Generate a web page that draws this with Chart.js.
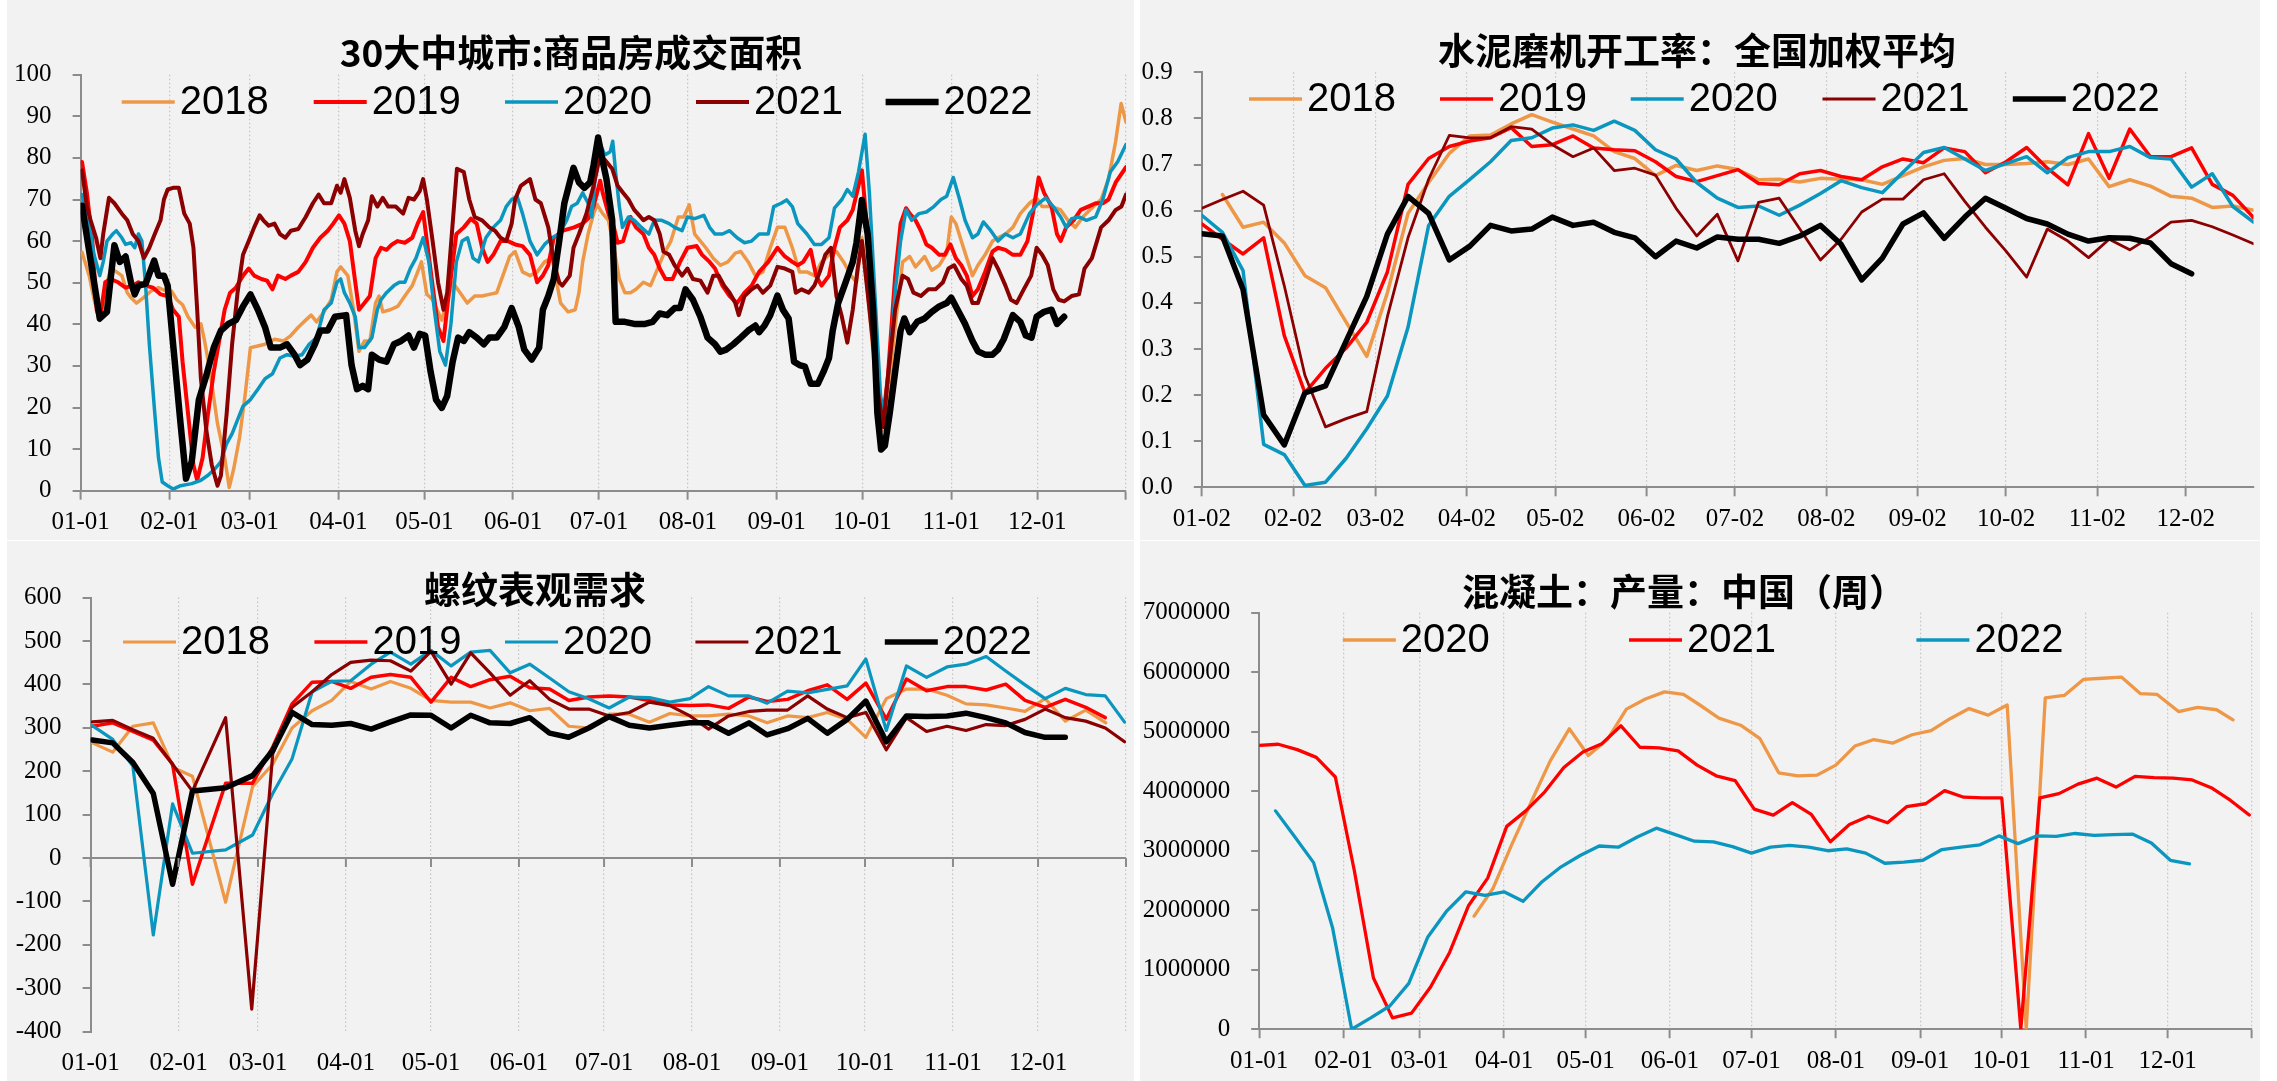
<!DOCTYPE html>
<html lang="zh-CN">
<head>
<meta charset="UTF-8">
<title>建材需求季节性</title>
<script src="https://cdn.jsdelivr.net/npm/chart.js@4"></script>
<style>
  body { margin: 0; width: 2277px; height: 1081px; background: #ffffff; position: relative; overflow: hidden; }
  .panel { position: absolute; background: #f2f2f2; }
  canvas { display: block; }
</style>
</head>
<body>
<div class="panel" style="left:7px;top:0;width:1127px;height:540px"><canvas id="area" width="1127" height="540"></canvas></div>
<div class="panel" style="left:1140px;top:0;width:1120px;height:540px"><canvas id="cement" width="1120" height="540"></canvas></div>
<div class="panel" style="left:7px;top:541px;width:1127px;height:540px"><canvas id="rebar" width="1127" height="540"></canvas></div>
<div class="panel" style="left:1140px;top:541px;width:1120px;height:540px"><canvas id="concrete" width="1120" height="540"></canvas></div>

<script>
// ---- tick labels (day of year, 01-01 = 0) ----
const monthDays01 = [0, 31, 59, 90, 120, 151, 181, 212, 243, 273, 304, 334, 365];
const monthLabels01 = ['01-01', '02-01', '03-01', '04-01', '05-01', '06-01', '07-01', '08-01', '09-01', '10-01', '11-01', '12-01', ''];
const monthDays02 = [1, 32, 60, 91, 121, 152, 182, 213, 244, 274, 305, 335];
const monthLabels02 = ['01-02', '02-02', '03-02', '04-02', '05-02', '06-02', '07-02', '08-02', '09-02', '10-02', '11-02', '12-02'];

// ---- 30大中城市:商品房成交面积  [day, value] ----
const area2018 = [[0.5,57.3],[3,51.7],[5,45.1],[7,41.8],[9,49.3],[10.5,53.4],[12.5,52.6],[14.4,51.7],[16.3,47.6],[17.6,46.4],[19.5,45.1],[22,46.4],[24.6,48],[27.2,48.8],[29.8,48],[31.7,48],[33.6,45.9],[35.6,44.7],[37.5,41.8],[40,39.3],[42,40.1],[43.3,36],[45.2,28.6],[47.8,16.1],[50.3,7.9],[51.9,0.8],[53.5,5.4],[55.5,12.8],[57.4,22.8],[59.3,34.4],[61.9,34.8],[64.4,35.2],[67.7,36.4],[70.9,36],[73.4,37.3],[76,39.3],[78.6,41],[80.5,42.2],[82.4,40.6],[85,43],[87.5,45.9],[89.5,52.6],[90.8,53.8],[93.3,51.7],[95.3,43.5],[97.2,33.5],[99.1,36],[101,36],[103,45.1],[104.2,46.8],[105.5,43],[108.1,43.5],[110.7,44.3],[113.2,46.8],[115.8,49.3],[117.7,52.6],[119,55],[120.9,47.2],[122.9,45.9],[126.1,41],[129.9,50.1],[132.5,47.6],[135,45.1],[137.6,46.8],[140.2,46.8],[142.7,47.2],[145.3,47.6],[147.9,52.6],[149.8,56.3],[151.7,57.5],[154.3,52.6],[156.9,51.7],[159.4,52.6],[162,55],[164.6,55.9],[167.6,45.1],[170.2,43],[172.7,43.5],[174,47.6],[175.3,55],[177.2,61.7],[179.1,66.6],[180.4,68.7],[182.3,66.6],[184.3,65],[186.2,58.4],[188.1,50.9],[190,47.6],[192,47.6],[193.9,48.4],[196.5,50.1],[199,49.3],[201,52.6],[203.5,56.7],[206.1,60],[208.7,65.8],[210.6,65.8],[212.5,68.7],[214.4,61.7],[216.4,60],[218.3,58.4],[220.9,55.9],[223.4,54.2],[226,55],[228.6,57.1],[230.5,57.5],[233.1,55],[235.6,51.7],[238.2,52.6],[240.8,58.4],[243.3,63.3],[245.9,63.3],[248.5,58.4],[251,52.6],[253.6,52.6],[256.2,51.7],[258.7,55],[261.3,56.7],[263.9,57.5],[266.4,55],[269,51.7],[270.9,50.1],[272.8,60.8],[275.4,43.5],[278,22.8],[279.9,14.5],[281.9,22.8],[284.4,39.3],[287,55],[289.5,56.3],[291.5,53.8],[294.7,56.3],[297.2,53],[299.8,54.2],[302.4,57.1],[304,65.8],[305.6,64.2],[307.5,60],[309.4,55.9],[311.4,51.7],[313.3,54.2],[315.8,56.7],[318.4,60],[320.3,60.8],[322.9,61.7],[325.5,63.3],[328.1,66.6],[331.3,69.1],[333.8,70.4],[335.7,68.3],[339,68.3],[342.2,67.5],[344.7,65],[347.3,63.3],[349.9,65.8],[352.4,67.5],[356.3,70],[358.9,74.9],[361.4,84],[363.3,93.1],[365,88.6]];
const area2019 = [[0.5,79],[2.2,71.6],[4.1,60],[5.6,43.5],[6.7,41],[8.6,50.1],[10.5,50.9],[13.1,50.1],[15.7,48.8],[18.2,49.3],[20.2,50.1],[22.7,49.3],[25.3,48.8],[27.9,47.2],[30.4,46.8],[32.3,43.5],[34.3,41.8],[35.6,31],[37.5,18.6],[39.4,6.2],[40.7,2.5],[42.6,7.9],[44.5,18.6],[46.5,28.6],[48.4,36],[50.3,43.5],[52.2,47.6],[54.2,48.8],[56.7,51.7],[58.7,53.4],[60.6,51.7],[63.1,50.9],[65.1,50.5],[67,48.4],[68.9,51.7],[71.5,50.9],[73.4,51.7],[76,52.6],[78.6,55],[81.1,58.4],[83.7,60.8],[86.3,62.5],[88.2,64.2],[90.2,66.2],[92.1,64.2],[94,60],[95.9,50.1],[97.2,43.5],[99.1,45.1],[101,46.8],[103,55.9],[104.9,58.4],[106.8,57.9],[108.7,59.2],[110.7,60],[113.2,59.6],[115.8,60.8],[117.7,64.2],[119.6,67],[120.9,60],[122.9,49.3],[124.8,39.3],[126.7,36],[128.6,47.6],[131.2,61.7],[133.8,63.3],[136.3,65.4],[138.3,64.2],[140.2,58.4],[142.1,55],[144.1,56.7],[146.6,60],[149.2,60],[151.7,59.2],[154.3,58.8],[156.9,56.7],[159.4,50.1],[161.4,51.7],[163.3,54.2],[165.2,60.8],[168.4,62.5],[172.3,63.3],[175.3,64.2],[177.2,65.4],[179.1,68.3],[181.4,74.5],[182.3,71.6],[184.3,66.6],[186.2,63.3],[187.5,59.6],[189.4,60],[192,65.8],[193.9,63.3],[196.5,61.7],[198.4,58.4],[200.3,56.7],[202.2,53.4],[204.2,50.9],[206.7,50.9],[209.3,55],[211.9,58.4],[215.1,58.8],[217,56.7],[219.6,55],[221.5,53.4],[224.1,49.3],[226.6,46.8],[229.2,45.1],[231.8,47.6],[234.3,49.3],[236.9,52.6],[240.1,55],[243.3,58.4],[245.9,56.3],[248.5,55],[250.4,54.2],[252.3,55],[254.9,57.9],[256.8,51.7],[258.7,49.3],[261.3,51.7],[263.2,58.4],[265.1,63.3],[267.7,65],[269.6,67.5],[271.6,73.3],[272.8,77],[274.8,61.7],[276.7,43.5],[278.6,22.8],[279.9,16.1],[281.8,26.9],[284.4,51.7],[286.3,64.2],[288.2,67.9],[289.5,66.6],[291.5,65],[293.4,62.5],[295.3,59.2],[297.2,58.4],[299.8,56.7],[301.7,56.7],[303.7,59.2],[305.6,55.9],[307.5,54.2],[309.4,51.7],[311.4,46.8],[313.3,48.4],[315.8,52.6],[318.4,57.5],[320.3,58.4],[322.9,57.9],[325.5,56.7],[328.1,56.7],[330.6,60],[332.5,66.6],[334.5,75.3],[336.4,71.6],[339,68.3],[340.9,61.7],[342.2,60],[344.1,63.3],[346.7,65],[349.2,67.5],[351.8,68.3],[354.4,69.1],[356.9,69.1],[358.9,70],[361.4,74.1],[365,77.8]];
const area2020 = [[0.5,71.2],[2.8,65],[4.7,56.7],[6.7,51.7],[7.9,55],[9.2,60],[11.2,61.7],[12.5,62.5],[14.4,60.8],[15.7,59.2],[17.6,59.6],[18.9,58.4],[20.2,61.7],[21.4,60],[22.7,49.3],[24,35.2],[25.9,18.6],[27.2,7.9],[28.5,2.1],[30.4,1.2],[32.3,0.4],[34.9,1.2],[38.8,1.7],[42,2.5],[44.5,3.7],[47.1,5.4],[49,7],[50.9,11.2],[52.9,13.7],[54.8,17],[56.7,20.3],[59.3,21.9],[61.9,24.4],[64.4,26.9],[67,28.1],[69.6,31.9],[72.1,32.7],[74.7,32.3],[77.3,32.7],[79.8,35.2],[82.4,36.8],[85,43.5],[87.5,45.1],[89.5,50.1],[90.8,50.9],[92.1,47.6],[94,45.1],[95.9,41.8],[97.2,34.4],[99.1,34.4],[101.7,36.8],[103.6,43.5],[104.9,45.9],[106.8,47.6],[109.4,49.3],[111.3,50.1],[113.2,50.1],[115.1,53.4],[117.1,55.9],[119.6,60.8],[121.6,55],[123.5,43.5],[125.4,33.5],[127.4,30.2],[129.3,40.1],[131.2,55],[133.2,60],[135.1,60.8],[137,55.9],[138.9,55],[141.5,60.8],[144.1,63.3],[146.6,65],[148.6,68.3],[150.5,70],[152.4,70.8],[154.3,66.6],[156.9,60],[159.4,56.7],[162,59.2],[164.6,60.8],[167.1,61.7],[169.7,65],[171.4,68.3],[173.4,69.1],[175.3,71.6],[177.2,69.1],[178.5,65.8],[179.8,76.6],[181.1,84],[183,80.7],[184.9,81.5],[185.8,84],[186.8,76.6],[188.1,68.3],[189.2,63.3],[191.3,65.8],[193.3,65],[195.8,63.3],[198.4,61.7],[200.3,65],[202.9,65],[205.5,64.2],[207.4,63.3],[210,62.5],[211.9,65.8],[214.4,65.4],[217.6,66.2],[219.6,63.3],[221.5,61.7],[224.1,61.7],[226.6,62.5],[229.2,60.8],[231.8,59.6],[234.3,60],[236.9,61.7],[240.1,61.7],[242,68.3],[244.6,69.1],[246.5,69.9],[248.5,68.3],[250.4,64.2],[253.6,61.7],[256.2,59.2],[258.7,59.2],[261.3,60.8],[263.2,67.9],[265.8,70],[267.7,72.4],[269.6,70.8],[271.6,76.6],[273.9,85.7],[275.4,71.6],[277.3,47.6],[279.3,22.8],[280.6,18.6],[282.5,31],[284.4,47.6],[286.3,60],[288.2,67.5],[290.2,65],[292.7,66.6],[295.3,67],[297.9,68.3],[300.4,70],[302.4,70.8],[304.7,75.3],[306.9,70],[308.8,65],[311.4,60.8],[313.3,61.7],[315.2,64.6],[317.8,62.5],[320.3,60],[322.9,61.7],[325.5,60.8],[328.1,61.7],[331.3,66.6],[333.8,68.7],[337,70.4],[339.6,68.3],[342.2,65.8],[344.1,63.3],[346,65.4],[348.6,65.8],[351.2,65],[354.4,65.8],[356.9,70],[359.5,76.6],[362.1,79.1],[365,83.2]];
const area2021 = [[0.5,77],[2.2,68.3],[3.5,65],[5.4,60.8],[6.9,55.9],[7.9,61.7],[9.9,70.4],[11.8,69.1],[14.4,66.6],[16.3,65],[18.2,61.7],[20.2,60],[22.1,55.9],[24,58.4],[25.9,61.7],[27.9,65],[29.1,70],[30.4,72.4],[32.3,72.8],[34.3,72.8],[36.2,66.6],[38.1,64.2],[39.4,58.4],[40.7,43.5],[42,26.9],[43.9,14.5],[45.8,6.2],[47.8,1.2],[49,3.7],[51,18.6],[52.9,35.2],[54.8,47.6],[56.7,56.7],[58.7,60],[60.6,63.3],[62.5,66.2],[63.8,65],[65.7,63.7],[67.7,64.2],[69.6,61.7],[71.5,60.8],[73.4,62.5],[76,62.9],[78.6,65.8],[81.1,69.1],[83.1,71.2],[85,69.1],[87.5,69.1],[89.5,73.3],[90.8,71.6],[92.1,74.9],[94,70.4],[95.9,62.5],[97.2,58.8],[98.5,61.7],[100.4,65],[101.7,70.8],[103.6,68.3],[105.5,70.4],[107.4,68.3],[110,68.3],[112.6,66.6],[114.5,70.4],[116.4,70],[118.4,72],[119.6,74.9],[120.9,70],[122.9,60],[124.8,50.1],[126.7,43.5],[128,47.6],[129.9,64.2],[131.4,77.4],[133.8,76.6],[135.7,70],[137.6,65.8],[140.2,65],[142.7,63.3],[144.7,62.5],[146.6,60.8],[148.6,60],[150.5,64.2],[151.7,70],[153.7,73.3],[156.9,74.9],[158.8,70],[160.7,69.1],[163.3,63.3],[165.2,55],[167.1,50.1],[168.2,49.3],[170.8,51.7],[172.1,58.4],[174,61.7],[176.6,66.6],[179.1,73.3],[181.4,80.7],[183.6,79.1],[185.6,77.4],[187.5,73.3],[189.4,71.6],[191.3,70],[193.3,67.5],[194.5,66.6],[196.5,65],[198.4,65.8],[200.3,65],[202.2,61.7],[203.5,57.5],[205.5,56.7],[207.4,54.2],[210,51.7],[211.9,53.4],[213.8,50.9],[216.4,50.5],[218.9,47.6],[220.9,51.7],[222.8,51.7],[224.7,49.3],[226.6,47.6],[228.6,45.1],[229.8,42.2],[231.8,46.8],[234.3,48.4],[236.3,49.3],[238.2,47.6],[240.8,49.3],[243.3,53.8],[245.9,53.4],[248.5,52.6],[249.7,47.6],[251.7,48.4],[254.2,47.6],[256.2,49.3],[258.1,52.6],[260,56.7],[262,58.4],[263.9,46.8],[265.8,41.8],[267.7,35.6],[269.6,43.5],[271.3,53.4],[272.8,60],[274.8,47.6],[276.7,35.2],[278.6,22.8],[280.3,15.3],[281.8,26.9],[284.4,43.5],[287,51.7],[288.9,50.9],[290.8,47.6],[293.4,46.8],[296,48.4],[298.5,48.4],[301.1,50.1],[303,53.4],[305,54.2],[307.5,50.9],[309.4,49.3],[311.4,45.1],[313.3,45.1],[315.8,50.1],[318.4,55.9],[320.3,53.4],[322.9,49.3],[324.8,45.9],[326.8,45.1],[329.3,48.4],[331.9,51.7],[333.8,58.4],[335.7,56.7],[337.7,54.2],[339.6,48.4],[341.5,45.9],[343.4,45.5],[346,46.8],[348.6,47.2],[350.5,53.4],[353.1,55.9],[356.3,63.3],[358.9,65],[361.4,67.5],[363.4,68.3],[365,71.2]];
const area2022 = [[0.5,68.5],[6.7,41.4],[9.2,43],[11.8,59],[13.7,55],[15.7,56.3],[17.6,50],[18.9,47.2],[20.2,49.3],[22.7,49.7],[25.7,55.3],[27.2,51.7],[29.1,51.7],[30.4,49.3],[32.3,35.2],[34.9,16.1],[36.8,2.9],[38.8,7],[41.3,21.9],[43.9,27.7],[46.5,34.4],[49,38.5],[51.6,40.1],[54.2,41],[56.7,44.3],[59.3,47.2],[61.9,43.5],[64.4,39.3],[66.4,34.4],[69.6,34.4],[72.1,35.2],[74.7,32.7],[76.6,30.2],[79.2,31.5],[81.8,35.2],[83.7,38.5],[86.3,38.5],[88.8,41.8],[92.7,42.2],[94.6,30.2],[96.5,24.4],[98.5,25.2],[100.4,24.4],[101.7,32.7],[104.2,31.5],[106.8,31],[109.4,35.2],[111.9,36],[114.5,37.3],[116.4,34.4],[118.4,37.7],[120.3,37.3],[122.2,28.6],[124.1,21.9],[126.1,19.9],[128,22.8],[129.9,31],[131.8,36.8],[133.8,36],[135.7,38.1],[138.3,36.8],[140.8,35.2],[142.7,36.8],[145.3,36.8],[147.9,39.3],[150.5,43.9],[153,39.3],[154.9,33.9],[157.5,31.5],[160.1,34.4],[161.4,43.5],[163.3,46.8],[165.2,50.9],[167.1,60],[168.9,69.1],[172.1,77.6],[174,74.1],[175.9,72.8],[177.9,74.1],[179.1,78.2],[180.7,84.9],[182.3,79.1],[183.6,74.9],[185.6,65],[186.8,40.6],[190,40.6],[193.3,40.1],[197.1,40.1],[199.7,40.6],[202.2,42.6],[204.8,42.2],[207.4,43.9],[209.3,43.9],[211.2,48.4],[213.8,45.9],[216.4,41.8],[218.9,36.8],[221.5,35.2],[223.4,33.4],[225.4,33.9],[227.9,35.2],[230.5,36.8],[233.1,38.5],[235.6,39.7],[236.9,38.1],[238.8,39.7],[240.8,42.2],[243.3,46.9],[245.2,43.5],[247.2,41.4],[249.1,31],[251,30.2],[252.9,29.8],[254.9,25.7],[257.4,25.7],[259.4,28.6],[261.3,31.9],[262.6,38.5],[264.5,45.1],[267.1,50.1],[269.6,55],[270.9,59.6],[272.8,69.9],[274.8,61.7],[276.7,43.5],[278.2,18.6],[279.5,9.9],[280.8,10.8],[282.5,18.6],[284.4,28.6],[286.3,38.5],[287.6,41.4],[289.5,38.1],[292.1,40.6],[294.7,41.4],[297.2,43],[299.8,44.3],[302.4,45.1],[304,46.4],[306.2,43.5],[308.8,40.1],[311.4,36],[313.3,33.5],[315.8,32.7],[318.4,32.7],[320.3,33.9],[322.3,36.4],[325.5,42.2],[328.1,40.6],[330,37.3],[332,36.8],[333.8,41.8],[336.4,43],[339,43.5],[340.9,40.1],[343.4,41.8]];

// ---- 水泥磨机开工率：全国加权平均 (weekly, shared dates) ----
const cementDays = [1,8,15,22,29,36,43,50,57,64,71,78,85,92,99,106,113,120,127,134,141,148,155,162,169,176,183,190,197,204,211,218,225,232,239,246,253,260,267,274,281,288,295,302,309,316,323,330,337,344,351,358];
const cement2018 = [null,0.635,0.564,0.575,0.530,0.459,0.433,0.358,0.284,0.422,0.594,0.661,0.724,0.762,0.764,0.788,0.808,0.792,0.777,0.762,0.728,0.713,0.676,0.698,0.687,0.697,0.689,0.667,0.668,0.662,0.670,0.668,0.667,0.657,0.676,0.695,0.709,0.713,0.700,0.700,0.702,0.706,0.700,0.712,0.652,0.667,0.653,0.631,0.627,0.607,0.610,0.601];
const cement2019 = [0.571,0.538,0.506,0.541,0.329,0.205,0.258,0.302,0.358,0.467,0.657,0.713,0.739,0.751,0.758,0.780,0.739,0.743,0.762,0.736,0.732,0.730,0.706,0.674,0.663,0.676,0.689,0.659,0.656,0.680,0.687,0.674,0.667,0.695,0.712,0.704,0.736,0.728,0.682,0.706,0.737,0.692,0.656,0.767,0.670,0.777,0.717,0.717,0.736,0.657,0.633,0.585];
const cement2020 = [0.590,0.553,0.470,0.093,0.071,0.004,0.011,0.063,0.127,0.198,0.347,0.568,0.631,0.668,0.706,0.752,0.758,0.779,0.786,0.774,0.794,0.774,0.732,0.712,0.661,0.627,0.607,0.610,0.590,0.612,0.637,0.665,0.650,0.639,0.683,0.726,0.737,0.712,0.687,0.702,0.717,0.682,0.715,0.728,0.728,0.739,0.715,0.712,0.651,0.680,0.609,0.575];
const cement2021 = [0.605,0.624,0.642,0.612,0.437,0.243,0.131,0.149,0.164,0.370,0.541,0.668,0.763,0.758,0.758,0.782,0.777,0.743,0.717,0.736,0.687,0.692,0.677,0.605,0.545,0.592,0.491,0.618,0.627,0.560,0.493,0.538,0.597,0.625,0.625,0.667,0.680,0.620,0.564,0.512,0.456,0.560,0.534,0.498,0.538,0.515,0.543,0.575,0.579,0.565,0.547,0.528];
const cement2022 = [0.550,0.545,0.429,0.157,0.092,0.205,0.220,0.317,0.414,0.549,0.631,0.594,0.493,0.523,0.568,0.556,0.560,0.586,0.568,0.575,0.553,0.541,0.500,0.534,0.519,0.543,0.538,0.538,0.529,0.545,0.568,0.527,0.450,0.497,0.571,0.595,0.540,0.586,0.627,0.605,0.583,0.571,0.549,0.534,0.541,0.540,0.530,0.485,0.463,null,null,null];

// ---- 螺纹表观需求  [day, value] ----
const rebar2018 = [[0.6,265.3],[7.8,243.9],[14.9,303.5],[22.1,311.4],[29.2,208.1],[35.9,188.3],[47.6,-101.9],[57.1,164.4],[64.2,216.1],[71,299.5],[78.1,339.3],[85,363.1],[91.7,406.8],[98.9,389.3],[105.7,406.8],[112.9,390.9],[120,363.1],[127.1,359.1],[134,359.1],[140.8,345.6],[147.9,357.5],[154.8,339.3],[161.8,344.8],[168.6,303.5],[175.6,299.5],[182.8,331.3],[189.9,331.3],[197,313],[204.2,332.9],[211.3,327.3],[217.8,327.3],[224.9,331.3],[232.1,327.3],[238.5,311.4],[245.7,327.3],[252.8,323.4],[259.7,335.3],[266.7,319.4],[273.3,278.1],[280.5,367.1],[287.6,389.3],[294.7,389.3],[301.9,375],[308.6,355.2],[315.7,352.8],[322.6,345.6],[329.4,337.7],[336.5,367.1],[343.6,315.4],[350.8,340.9],[357.9,311.4]];
const rebar2019 = [[0.6,303.5],[7.8,311.4],[14.9,291.6],[22.1,271.7],[28.9,216.1],[35.9,-60.6],[47.6,172.3],[57.1,172.3],[64.2,255.8],[71,355.2],[78.1,405.2],[85,406.8],[91.7,390.9],[98.9,416.3],[105.7,422.7],[112.9,416.3],[120,359.1],[127.1,416.3],[134,394.9],[140.8,410.8],[147.9,418.8],[154.8,392.5],[161.8,389.3],[168.6,363.1],[175.6,371],[182.8,373.5],[189.9,371],[197,363.1],[204.2,352.8],[211.3,351.2],[217.8,352.8],[224.9,344.8],[232.1,371],[238.5,360.7],[245.7,365.5],[252.8,385.4],[259.7,398.9],[266.7,365.5],[273.3,402.9],[280.5,320],[287.6,412.4],[294.7,385.4],[301.9,394.9],[308.6,394.9],[315.7,387],[322.6,400.5],[329.4,363.1],[336.5,347.2],[343.6,365.5],[350.8,347.2],[357.7,323.4]];
const rebar2020 = [[0.6,305.1],[7.8,273.3],[14.9,212],[22.1,-177.4],[28.9,124.6],[35.9,11],[47.6,18.9],[57.1,53],[64.2,148.5],[71,228],[78.1,383],[85,406.8],[91.7,408.4],[98.9,446.6],[105.7,474.4],[112.9,446.6],[120,478.4],[127.1,442.6],[134,474.4],[140.8,478.4],[147.9,426.7],[154.8,446.6],[161.8,414.8],[168.6,383],[175.6,367.1],[182.8,345.6],[189.9,371],[197,369.5],[204.2,359.1],[211.3,367.1],[217.8,394.9],[224.9,373.5],[232.1,373.5],[238.5,356.7],[245.7,384.6],[252.8,380.6],[259.7,388.6],[266.7,396.5],[273.3,458.5],[280.5,293.9],[287.6,442.6],[294.7,416.3],[301.9,440.2],[308.6,446.6],[315.7,464.1],[322.6,430.7],[329.4,398.9],[336.5,367.1],[343.6,390.9],[350.8,376.6],[357.7,373.5],[364.5,313]];
const rebar2021 = [[0.6,313.8],[7.8,317],[14.9,295.5],[22.1,275.7],[28.9,216.1],[35.9,154.2],[47.6,323.4],[56.8,-348.3],[64.2,239.9],[71,347.2],[78.1,383],[85,422.7],[91.7,450.6],[98.9,456.1],[105.7,454.5],[112.9,430.7],[120,476],[127.1,400.5],[134,472.8],[140.8,426.7],[147.9,375],[154.8,408.4],[161.8,365.5],[168.6,343.2],[175.6,343.2],[182.8,327.3],[189.9,335.3],[197,359.1],[204.2,351.2],[211.3,327.3],[217.8,297.1],[224.9,327.3],[232.1,337.7],[238.5,340.9],[245.7,340.9],[252.8,373.5],[259.7,343.2],[266.7,323.4],[273.3,335.3],[280.5,249.4],[287.6,323.4],[294.7,291.6],[301.9,303.5],[308.6,293.9],[315.7,307.5],[322.6,305.1],[329.4,319.4],[336.5,343.2],[343.6,323.4],[350.8,315.4],[357.7,299.5],[364.5,267.7]];
const rebar2022 = [[0.6,271.7],[7.8,265.3],[14.9,220],[22.1,148.5],[28.9,-60.6],[35.9,154.2],[47.6,162],[57.1,189.8],[64.2,247.8],[71,335.3],[78.1,307.5],[85,305.9],[91.7,309.9],[98.9,297.1],[105.7,313.8],[112.9,329.7],[120,328.9],[127.1,299.5],[134,328.9],[140.8,311.4],[147.9,309.9],[154.8,323.4],[161.8,287.6],[168.5,278.1],[175.6,299.5],[182.8,325.8],[189.9,305.9],[197,299.5],[204.2,305.9],[211.3,311.4],[217.8,311.4],[224.9,287.6],[232.1,311.4],[238.5,283.6],[245.7,297.9],[252.8,321.8],[259.7,287.6],[266.7,319.4],[273.3,361.6],[280.5,267.7],[287.6,327.3],[294.7,325.8],[301.9,327.3],[308.6,333.7],[315.7,323.4],[322.6,311.4],[329.4,289.2],[336.5,278.1],[343.6,278.1]];

// ---- 混凝土：产量：中国（周）  [day, value] ----
const concrete2020 = [[79,1900000],[86,2370000],[93,3120000],[100,3820000],[107,4510000],[114,5050000],[121,4600000],[128,4870000],[135,5380000],[142,5550000],[149,5670000],[156,5630000],[162,5450000],[169,5230000],[177,5110000],[184,4890000],[191,4310000],[198,4260000],[205,4270000],[212,4440000],[219,4760000],[226,4870000],[233,4810000],[240,4950000],[247,5020000],[254,5220000],[261,5390000],[268,5280000],[275,5450000],[282,0],[289,5570000],[296,5610000],[303,5880000],[310,5900000],[317,5920000],[324,5640000],[330,5630000],[338,5340000],[345,5410000],[352,5370000],[358,5200000]];
const concrete2021 = [[0,4770000],[7,4790000],[14,4700000],[21,4570000],[28,4240000],[35,2660000],[42,860000],[49,190000],[56,270000],[63,710000],[70,1290000],[77,2080000],[84,2540000],[91,3410000],[98,3670000],[105,3990000],[112,4400000],[119,4660000],[126,4800000],[133,5100000],[140,4740000],[147,4730000],[154,4680000],[161,4440000],[168,4260000],[175,4180000],[182,3700000],[189,3600000],[196,3810000],[203,3610000],[210,3150000],[217,3440000],[224,3580000],[231,3470000],[238,3740000],[245,3790000],[252,4010000],[259,3900000],[266,3890000],[273,3890000],[280,0],[287,3890000],[294,3960000],[301,4120000],[308,4220000],[315,4070000],[322,4250000],[329,4230000],[336,4220000],[343,4190000],[350,4060000],[357,3850000],[364,3600000]];
const concrete2022 = [[6,3670000],[13,3240000],[20,2800000],[27,1700000],[34,0],[41,190000],[48,390000],[55,770000],[62,1550000],[69,1990000],[76,2310000],[83,2250000],[90,2310000],[97,2150000],[104,2480000],[111,2730000],[118,2920000],[125,3080000],[132,3060000],[139,3230000],[146,3380000],[153,3270000],[160,3160000],[167,3150000],[174,3070000],[181,2960000],[188,3060000],[195,3090000],[202,3060000],[209,3000000],[216,3030000],[223,2960000],[230,2790000],[237,2810000],[244,2840000],[251,3020000],[258,3060000],[265,3100000],[272,3250000],[279,3120000],[286,3250000],[293,3240000],[300,3290000],[307,3260000],[314,3270000],[321,3280000],[328,3130000],[335,2840000],[342,2780000]];

// ---- styling ----
const axisGray = '#8c8c8c';
const dotGray = '#c4c4c4';
const serif = '"Liberation Serif", "Times New Roman", serif';
const C18 = '#ee9747', C19 = '#ff0000', C20 = '#0a96be', C21 = '#8b0000', C22 = '#000000';

function pairs(arr) { return arr.map(p => ({x: p[0], y: p[1]})); }
function onDays(days, vals) { return days.map((d, i) => ({x: d, y: vals[i]})); }

function line(label, data, color, width, order) {
  return { label, data, borderColor: color, backgroundColor: color, borderWidth: width,
           pointRadius: 0, tension: 0, borderJoinStyle: 'round', borderCapStyle: 'round', order };
}

// title + legend drawn over the plot, like the original
function overlay(s) {
  return {
    id: 'overlay',
    afterDraw(chart) {
      const ctx = chart.ctx;
      ctx.save();
      if (s.zeroTicks) {
        const xs = chart.scales.x, y0 = chart.scales.y.getPixelForValue(0);
        ctx.strokeStyle = axisGray; ctx.lineWidth = 2;
        xs.ticks.forEach(t => {
          const px = xs.getPixelForValue(t.value);
          ctx.beginPath(); ctx.moveTo(px, y0); ctx.lineTo(px, y0 + 9); ctx.stroke();
        });
      }
      ctx.fillStyle = '#000';
      ctx.textBaseline = 'middle';
      ctx.textAlign = 'center';
      ctx.font = 'bold 37px "Noto Sans CJK SC"';
      ctx.fillText(s.title, s.titleX, s.titleY);
      ctx.textAlign = 'left';
      ctx.font = '40px "Liberation Sans"';
      chart.data.datasets.forEach((ds, i) => {
        const x = s.legendX[i];
        ctx.strokeStyle = ds.borderColor;
        ctx.lineWidth = ds.borderWidth;
        ctx.lineCap = 'butt';
        ctx.beginPath(); ctx.moveTo(x, s.legendY); ctx.lineTo(x + 53, s.legendY); ctx.stroke();
        ctx.fillText(ds.label, x + 58, s.legendY + 1);
      });
      ctx.restore();
    }
  };
}

function xAxis(tickDays, tickLabels, min, max, height, showBorder) {
  return {
    type: 'linear', min, max,
    afterBuildTicks: s => { s.ticks = tickDays.map(v => ({value: v})); },
    afterFit: s => { s.height = height; },
    ticks: { callback: (v, i) => tickLabels[i] ?? '', font: {family: serif, size: 25}, color: '#000',
             padding: 8, maxRotation: 0, autoSkip: false },
    grid: { color: c => c.index === 0 ? 'rgba(0,0,0,0)' : dotGray, lineWidth: 1.2,
            tickColor: showBorder ? axisGray : 'rgba(0,0,0,0)', tickWidth: 2, tickLength: 9 },
    border: { display: showBorder, color: axisGray, width: 2, dash: [1.5, 2.5] }
  };
}

function yAxis(min, max, step, fmt, width, zeroLine) {
  return {
    min, max,
    afterFit: s => { s.width = width; },
    ticks: { stepSize: step, callback: fmt, font: {family: serif, size: 25}, color: '#000', padding: 21 },
    grid: { drawOnChartArea: zeroLine,
            color: c => (zeroLine && c.tick && c.tick.value === 0) ? axisGray : 'rgba(0,0,0,0)',
            lineWidth: 2, tickColor: axisGray, tickWidth: 2, tickLength: 8 },
    border: { color: axisGray, width: 2 }
  };
}

function makeChart(id, datasets, scales, padding, ov) {
  return new Chart(document.getElementById(id), {
    type: 'line',
    data: { datasets },
    options: {
      responsive: false, animation: false, devicePixelRatio: 1,
      layout: { padding },
      plugins: { legend: { display: false }, title: { display: false }, tooltip: { enabled: false } },
      scales
    },
    plugins: [overlay(ov)]
  });
}

// 1. 30大中城市:商品房成交面积
makeChart('area', [
  line('2018', pairs(area2018), C18, 3.5, 5),
  line('2019', pairs(area2019), C19, 4, 4),
  line('2020', pairs(area2020), C20, 3.5, 3),
  line('2021', pairs(area2021), C21, 4, 2),
  line('2022', pairs(area2022), C22, 6.5, 1)
], {
  x: xAxis(monthDays01, monthLabels01, 0, 365, 49.3, true),
  y: yAxis(0, 100, 10, v => v, 73.6, false)
}, { top: 74.7, right: 1.4, left: 0, bottom: 0 }, {
  title: '30大中城市:商品房成交面积', titleX: 564, titleY: 53,
  legendX: [114.7, 306.7, 498, 689, 878.6], legendY: 102
});

// 2. 水泥磨机开工率：全国加权平均
makeChart('cement', [
  line('2018', onDays(cementDays, cement2018), C18, 3.5, 5),
  line('2019', onDays(cementDays, cement2019), C19, 3.5, 4),
  line('2020', onDays(cementDays, cement2020), C20, 3.5, 3),
  line('2021', onDays(cementDays, cement2021), C21, 2.8, 2),
  line('2022', onDays(cementDays, cement2022), C22, 5.5, 1)
], {
  x: xAxis(monthDays02, monthLabels02, 1, 358, 52.7, true),
  y: yAxis(0, 0.9, 0.1, v => v.toFixed(1), 61.8, false)
}, { top: 72.3, right: 6.5, left: 0, bottom: 0 }, {
  title: '水泥磨机开工率：全国加权平均', titleX: 557, titleY: 51,
  legendX: [109, 300, 490.7, 682.5, 872.8], legendY: 99
});

// 3. 螺纹表观需求
makeChart('rebar', [
  line('2018', pairs(rebar2018), C18, 3.2, 5),
  line('2019', pairs(rebar2019), C19, 3.5, 4),
  line('2020', pairs(rebar2020), C20, 3.2, 3),
  line('2021', pairs(rebar2021), C21, 3.2, 2),
  line('2022', pairs(rebar2022), C22, 5.5, 1)
], {
  x: xAxis(monthDays01, monthLabels01, 0, 365, 49.4, false),
  y: yAxis(-400, 600, 100, v => v, 83.6, true)
}, { top: 56.6, right: 4, left: 0, bottom: 0 }, {
  title: '螺纹表观需求', titleX: 528, titleY: 49, zeroTicks: true,
  legendX: [116, 307.4, 498, 688.4, 877.8], legendY: 101
});

// 4. 混凝土：产量：中国（周）
makeChart('concrete', [
  line('2020', pairs(concrete2020), C18, 3.3, 3),
  line('2021', pairs(concrete2021), C19, 3.3, 2),
  line('2022', pairs(concrete2022), C20, 3.3, 1)
], {
  x: xAxis(monthDays01, monthLabels01, 0, 365, 51.8, true),
  y: yAxis(0, 7000000, 1000000, v => String(v), 119.2, false)
}, { top: 71.8, right: 1.7, left: 0, bottom: 0 }, {
  title: '混凝土：产量：中国（周）', titleX: 544, titleY: 51,
  legendX: [202.8, 489, 776.4], legendY: 99
});
</script>
</body>
</html>
